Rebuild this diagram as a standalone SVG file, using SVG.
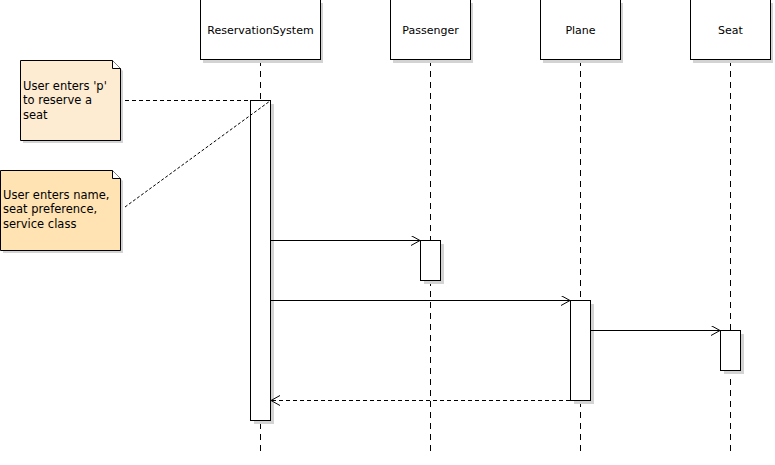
<svg xmlns="http://www.w3.org/2000/svg" width="775" height="465" viewBox="0 0 775 465">
<style>
text{font-family:"DejaVu Sans","Liberation Sans",sans-serif;font-size:11px;fill:#000}
.nt{font-size:11.5px}
.head{fill:#fff;stroke:#000;stroke-width:1}
.sh{fill:#d3d3d3}
.life{stroke:#000;stroke-width:1;stroke-dasharray:6,5;fill:none}
.act{fill:#fff;stroke:#000;stroke-width:1}
.msg{stroke:#000;stroke-width:1;fill:none}
.ret{stroke:#000;stroke-width:1;fill:none;stroke-dasharray:4,3}
.link{stroke:#000;stroke-width:1;fill:none;stroke-dasharray:3,2}
.mid{text-anchor:middle}
</style>
<defs>
<marker id="open" markerWidth="12" markerHeight="12" refX="10" refY="5" orient="auto" markerUnits="userSpaceOnUse">
<path d="M1,0 L10,5 L1,10" fill="none" stroke="#000" stroke-width="1"/>
</marker>
</defs>
<rect width="775" height="465" fill="#fff"/>
<g id="lifelines">
<line class="life" x1="260.5" y1="60" x2="260.5" y2="456"/>
<line class="life" x1="430.5" y1="60" x2="430.5" y2="456"/>
<line class="life" x1="580.5" y1="60" x2="580.5" y2="456"/>
<line class="life" x1="730.5" y1="60" x2="730.5" y2="456"/>
</g>
<g id="ReservationSystem">
<rect class="sh" x="203" y="3" width="120" height="60"/>
<rect class="head" x="200.5" y="-0.5" width="120" height="60"/>
<text class="mid" x="260.5" y="34">ReservationSystem</text>
</g>
<g id="Passenger">
<rect class="sh" x="393" y="3" width="80" height="60"/>
<rect class="head" x="390.5" y="-0.5" width="80" height="60"/>
<text class="mid" x="430.5" y="34">Passenger</text>
</g>
<g id="Plane">
<rect class="sh" x="543" y="3" width="80" height="60"/>
<rect class="head" x="540.5" y="-0.5" width="80" height="60"/>
<text class="mid" x="580.5" y="34">Plane</text>
</g>
<g id="Seat">
<rect class="sh" x="693" y="3" width="80" height="60"/>
<rect class="head" x="690.5" y="-0.5" width="80" height="60"/>
<text class="mid" x="730.5" y="34">Seat</text>
</g>
<g id="activations">
<rect class="sh" x="254" y="104" width="20" height="320"/>
<rect class="act" x="250.5" y="100.5" width="20" height="320"/>
<rect class="sh" x="424" y="244" width="20" height="40"/>
<rect class="act" x="420.5" y="240.5" width="20" height="40"/>
<rect class="sh" x="574" y="304" width="20" height="100"/>
<rect class="act" x="570.5" y="300.5" width="20" height="100"/>
<rect class="sh" x="724" y="334" width="20" height="40"/>
<rect class="act" x="720.5" y="330.5" width="20" height="40"/>
</g>
<g id="note1">
<path class="sh" d="M23,63 H115 L123,71 V143 H23 Z"/>
<path d="M20.5,60.5 H112.5 L120.5,68.5 V140.5 H20.5 Z" fill="#fdebd2" stroke="#000" stroke-width="1"/>
<path d="M112.5,60.5 V68.5 H120.5" fill="#fff" stroke="#000" stroke-width="1"/>
<text class="nt" x="23" y="90">User enters 'p'</text>
<text class="nt" x="23" y="104">to reserve a</text>
<text class="nt" x="23" y="119">seat</text>
</g>
<g id="note2">
<path class="sh" d="M3,173 H115 L123,181 V253 H3 Z"/>
<path d="M0.5,170.5 H112.5 L120.5,178.5 V250.5 H0.5 Z" fill="#ffe3b3" stroke="#000" stroke-width="1"/>
<path d="M112.5,170.5 V178.5 H120.5" fill="#fff" stroke="#000" stroke-width="1"/>
<text class="nt" x="3" y="199">User enters name,</text>
<text class="nt" x="3" y="213">seat preference,</text>
<text class="nt" x="3" y="228">service class</text>
</g>
<g id="connectors">
<line class="ret" x1="125" y1="100.5" x2="250" y2="100.5"/>
<line class="link" x1="125" y1="207" x2="270" y2="101"/>
<line class="msg" x1="271" y1="240.5" x2="420" y2="240.5" marker-end="url(#open)"/>
<line class="msg" x1="271" y1="300.5" x2="570" y2="300.5" marker-end="url(#open)"/>
<line class="msg" x1="591" y1="330.5" x2="720" y2="330.5" marker-end="url(#open)"/>
<line class="ret" x1="570" y1="400.5" x2="271" y2="400.5" marker-end="url(#open)"/>
</g>
</svg>
